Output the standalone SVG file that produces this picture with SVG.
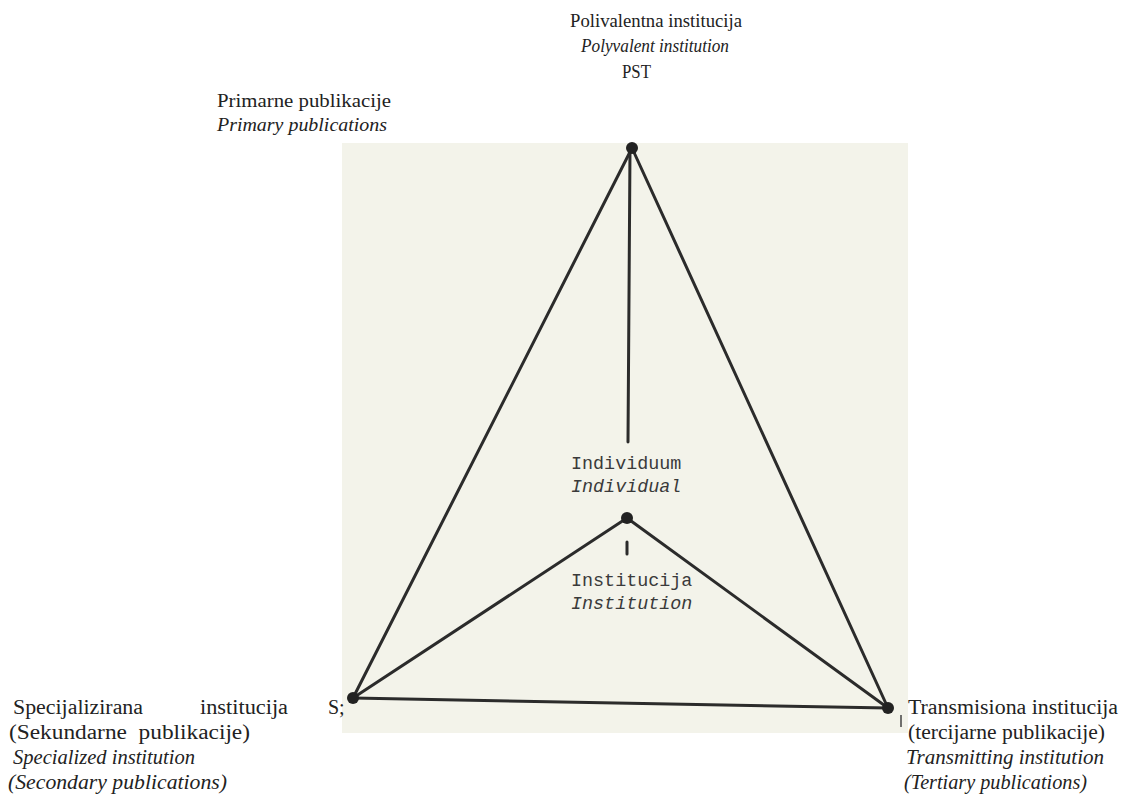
<svg xmlns="http://www.w3.org/2000/svg" width="1121" height="799" viewBox="0 0 1121 799">
<style>
.t{font-family:"Liberation Serif",serif;font-size:18px;fill:#222}
.b{font-size:20px}
.i{font-style:italic}
.m{font-family:"Liberation Mono",monospace;font-size:18.4px;fill:#3a3a3a}
.e{stroke:#2b2b2b;stroke-width:3;fill:none;stroke-linecap:round}
.n{fill:#222}
</style>
<rect width="1121" height="799" fill="#ffffff"/>
<rect x="342" y="143" width="566" height="590" fill="#f3f3ea"/>
<g id="connectors">
<line class="e" x1="632" y1="148" x2="353" y2="698"/>
<line class="e" x1="632" y1="148" x2="888" y2="708"/>
<line class="e" x1="353" y1="698" x2="888" y2="708"/>
<line class="e" x1="630" y1="150" x2="628" y2="442"/>
<line class="e" x1="627" y1="518" x2="353" y2="698"/>
<line class="e" x1="627" y1="518" x2="888" y2="708"/>
<line class="e" x1="627" y1="542" x2="627" y2="554" stroke-width="2"/>
<line x1="901" y1="715" x2="901" y2="727" stroke="#444" stroke-width="1.5"/>
</g>
<g id="node-pst">
<circle class="n" cx="632" cy="148" r="6"/>
<text class="t" x="570" y="27" textLength="172" lengthAdjust="spacingAndGlyphs">Polivalentna institucija</text>
<text class="t i" x="581" y="52" textLength="148" lengthAdjust="spacingAndGlyphs">Polyvalent institution</text>
<text class="t" x="622" y="78" textLength="29" lengthAdjust="spacingAndGlyphs">PST</text>
</g>
<g id="node-primary">
<text class="t" x="217" y="107" textLength="174" lengthAdjust="spacingAndGlyphs">Primarne publikacije</text>
<text class="t i" x="217" y="131" textLength="170" lengthAdjust="spacingAndGlyphs">Primary publications</text>
</g>
<g id="node-individual">
<circle class="n" cx="627" cy="518" r="6"/>
<text class="m" x="571" y="469">Individuum</text>
<text class="m i" x="571" y="492">Individual</text>
<text class="m" x="571" y="586">Institucija</text>
<text class="m i" x="571" y="609">Institution</text>
</g>
<g id="node-s">
<circle class="n" cx="353" cy="698" r="6"/>
<text class="t b" x="13" y="714" textLength="130" lengthAdjust="spacingAndGlyphs">Specijalizirana</text>
<text class="t b" x="200" y="714" textLength="88" lengthAdjust="spacingAndGlyphs">institucija</text>
<text class="t b" x="328" y="714">S;</text>
<text class="t b" x="9" y="739" textLength="241" lengthAdjust="spacingAndGlyphs" xml:space="preserve">(Sekundarne  publikacije)</text>
<text class="t b i" x="13" y="764" textLength="182" lengthAdjust="spacingAndGlyphs">Specialized institution</text>
<text class="t b i" x="8" y="789" textLength="219" lengthAdjust="spacingAndGlyphs">(Secondary publications)</text>
</g>
<g id="node-t">
<circle class="n" cx="888" cy="708" r="6"/>
<text class="t b" x="908" y="714" textLength="210" lengthAdjust="spacingAndGlyphs">Transmisiona institucija</text>
<text class="t b" x="908" y="739" textLength="197" lengthAdjust="spacingAndGlyphs">(tercijarne publikacije)</text>
<text class="t b i" x="906" y="764" textLength="198" lengthAdjust="spacingAndGlyphs">Transmitting institution</text>
<text class="t b i" x="904" y="789" textLength="183" lengthAdjust="spacingAndGlyphs">(Tertiary publications)</text>
</g>
</svg>
